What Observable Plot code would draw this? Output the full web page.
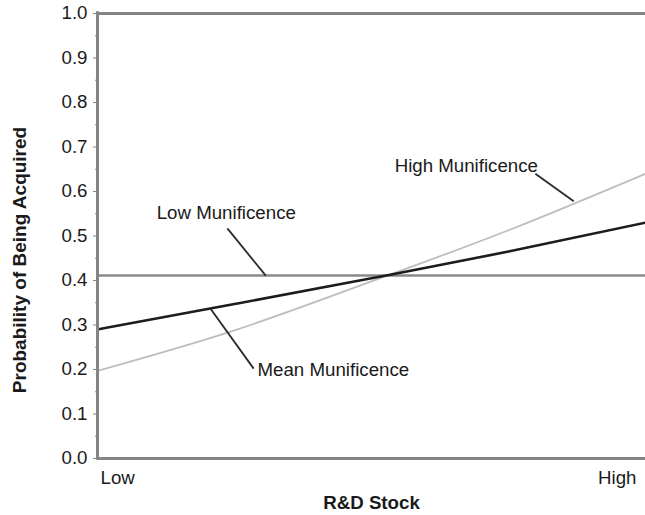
<!DOCTYPE html>
<html>
<head>
<meta charset="utf-8">
<script src="https://cdn.jsdelivr.net/npm/d3@7"></script>
<script src="https://cdn.jsdelivr.net/npm/@observablehq/plot@0.6"></script>
<style>
  html, body { margin: 0; padding: 0; background: #fff; }
</style>
</head>
<body>
<div id="chart"></div>
<script>
// R&D Stock positions (0 = Low, 1 = High)
const xStops = [0, 0.25, 0.5, 0.75, 1];
const lowMunificence  = [0.411, 0.411, 0.411, 0.411, 0.411];
const meanMunificence = [0.290, 0.347, 0.405, 0.465, 0.530];
const highMunificence = [0.197, 0.288, 0.398, 0.513, 0.640];

const yTicks = [0, 0.1, 0.2, 0.3, 0.4, 0.5, 0.6, 0.7, 0.8, 0.9, 1.0];
const yMinorTicks = [0.05, 0.15, 0.25, 0.35, 0.45, 0.55, 0.65, 0.75, 0.85, 0.95];
const xTickValues = [0, 1];
const xTickLabels = ["Low", "High"];

// Annotation labels and their leader lines (data coordinates)
const labelNames = ["Low Munificence", "Mean Munificence", "High Munificence"];
const labelX = [0.235, 0.292, 0.673];
const labelY = [0.551, 0.198, 0.658];
const leaderX1 = [0.237, 0.206, 0.799];
const leaderY1 = [0.517, 0.337, 0.640];
const leaderX2 = [0.307, 0.285, 0.869];
const leaderY2 = [0.411, 0.202, 0.578];

const series = [
  {name: "Low", values: lowMunificence, stroke: "#8a8a8a", width: 2.5},
  {name: "High", values: highMunificence, stroke: "#bdbdbd", width: 1.8},
  {name: "Mean", values: meanMunificence, stroke: "#1c1c1c", width: 2.6}
];
const lineMarks = series.map(s =>
  Plot.line(xStops.map((x, i) => ({x, y: s.values[i]})), {
    x: "x", y: "y", stroke: s.stroke, strokeWidth: s.width, curve: "monotone-x"
  })
);

const labels = labelNames.map((n, i) => ({n, x: labelX[i], y: labelY[i]}));
const leaders = labelNames.map((n, i) => ({x1: leaderX1[i], y1: leaderY1[i], x2: leaderX2[i], y2: leaderY2[i]}));
const xTicks = xTickLabels.map((l, i) => ({label: l, value: xTickValues[i]}));

const chart = Plot.plot({
  width: 645,
  height: 515,
  marginLeft: 97,
  marginRight: 0,
  marginTop: 13,
  marginBottom: 57,
  style: {fontFamily: "'Liberation Sans', Arial, sans-serif", fontSize: "18.7px", color: "#1a1a1a", background: "#fff"},
  x: {domain: [0, 1], axis: null},
  y: {domain: [0, 1], axis: null},
  marks: [
    ...lineMarks,
    Plot.link(leaders, {x1: "x1", y1: "y1", x2: "x2", y2: "y2", stroke: "#2a2a2a", strokeWidth: 1.8}),
    Plot.text(labels.slice(0, 1), {x: "x", y: "y", text: "n", textAnchor: "middle", fill: "#1a1a1a"}),
    Plot.text(labels.slice(1, 2), {x: "x", y: "y", text: "n", textAnchor: "start", fill: "#1a1a1a"}),
    Plot.text(labels.slice(2, 3), {x: "x", y: "y", text: "n", textAnchor: "middle", fill: "#1a1a1a"}),
    // frame
    Plot.ruleY([0, 1], {stroke: "#858585", strokeWidth: 3}),
    Plot.ruleX([0], {stroke: "#858585", strokeWidth: 3, y1: -0.004, y2: 1.004}),
    // y axis
    Plot.axisY({ticks: yMinorTicks, tickSize: 2, tickFormat: () => "", stroke: "#858585"}),
    Plot.axisY({ticks: yTicks, tickSize: 4, tickPadding: 6, tickFormat: d3.format(".1f"), stroke: "#858585", fill: "#1a1a1a", label: null}),
    // x tick labels
    Plot.text(xTicks.slice(0, 1), {x: "value", y: 0, text: "label", textAnchor: "start", dx: 3, dy: 20, fill: "#1a1a1a"}),
    Plot.text(xTicks.slice(1), {x: "value", y: 0, text: "label", textAnchor: "end", dx: -9, dy: 20, fill: "#1a1a1a"}),
    // axis titles
    Plot.text(["R&D Stock"], {frameAnchor: "bottom", textAnchor: "middle", lineAnchor: "middle", dy: 45, fontWeight: "bold", fill: "#1a1a1a"}),
    Plot.text(["Probability of Being Acquired"], {frameAnchor: "left", textAnchor: "middle", lineAnchor: "middle", dx: -78, dy: 24, rotate: -90, fontWeight: "bold", fontSize: 19, fill: "#1a1a1a"})
  ]
});
document.getElementById("chart").appendChild(chart);
</script>
</body>
</html>
